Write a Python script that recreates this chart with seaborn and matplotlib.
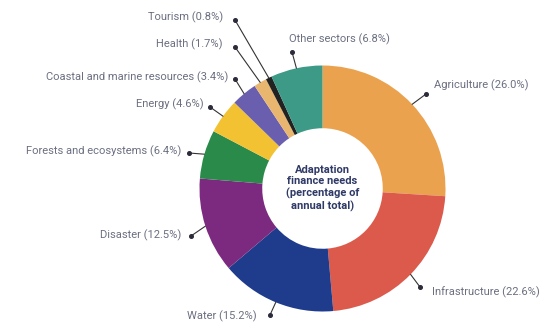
import matplotlib
matplotlib.use("Agg")
import matplotlib.pyplot as plt
import seaborn as sns
import numpy as np

sectors = ["Agriculture", "Infrastructure", "Water", "Disaster",
           "Forests and ecosystems", "Energy", "Coastal and marine resources",
           "Health", "Tourism", "Other sectors"]
shares = [26.0, 22.6, 15.2, 12.5, 6.4, 4.6, 3.4, 1.7, 0.8, 6.8]
colors = ["#EBA24E", "#DC5A4B", "#1F3B8C", "#7C2A80", "#2A8A4A",
          "#F2C232", "#6A5FAF", "#E9B670", "#222222", "#3C9A86"]
center_text = "Adaptation\nfinance needs\n(percentage of\nannual total)"

# layout (pixel coords, y measured from top)
W, H = 541, 322
cx, cy, R = 322.5, 188.5, 123
ring_width = 0.51
dots = [(426, 94), (420, 287), (270, 315), (191, 236), (189, 153),
        (210, 107), (235, 79), (235, 47), (235, 20), (292, 52)]
texts = [(434, 85, "left"), (432, 292, "left"), (257, 316, "right"),
         (181, 235, "right"), (181, 151, "right"), (204, 104, "right"),
         (228, 77, "right"), (223, 44, "right"), (223, 17, "right"),
         (289, 39, "left")]

sns.set_theme(style="white")
plt.rcParams["font.family"] = ["Roboto", "DejaVu Sans"]

fig = plt.figure(figsize=(W / 100, H / 100), dpi=100)
ax = fig.add_axes([0, 0, 1, 1])

def py(y):
    return H - y

wedges, _ = ax.pie(shares, colors=colors, startangle=90, counterclock=False,
                   radius=R, center=(cx, py(cy)),
                   wedgeprops=dict(width=R * ring_width, linewidth=0))

total = sum(shares)
cum = 0.0
for i, (name, val) in enumerate(zip(sectors, shares)):
    mid = (cum + val / 2) / total
    cum += val
    ang = np.deg2rad(90 - mid * 360)
    ex = cx + R * np.cos(ang)
    ey = py(cy) + R * np.sin(ang)
    dx, dy = dots[i]
    ax.plot([dx, ex], [py(dy), ey], color="#333333", lw=0.8, zorder=3)
    ax.plot([dx], [py(dy)], "o", color="#2b2b3b", ms=2.6, zorder=4)
    tx, ty, ha = texts[i]
    ax.text(tx, py(ty), f"{name} ({val:.1f}%)", ha=ha, va="center",
            fontsize=8, color="#6b6f80")

ax.text(cx, py(cy), center_text, ha="center", va="center", fontsize=8,
        fontweight="bold", color="#2f3a66", linespacing=1.2)

ax.set_xlim(0, W)
ax.set_ylim(0, H)
ax.set_aspect("auto")
ax.axis("off")
fig.savefig("out.png", dpi=100, facecolor="white")
